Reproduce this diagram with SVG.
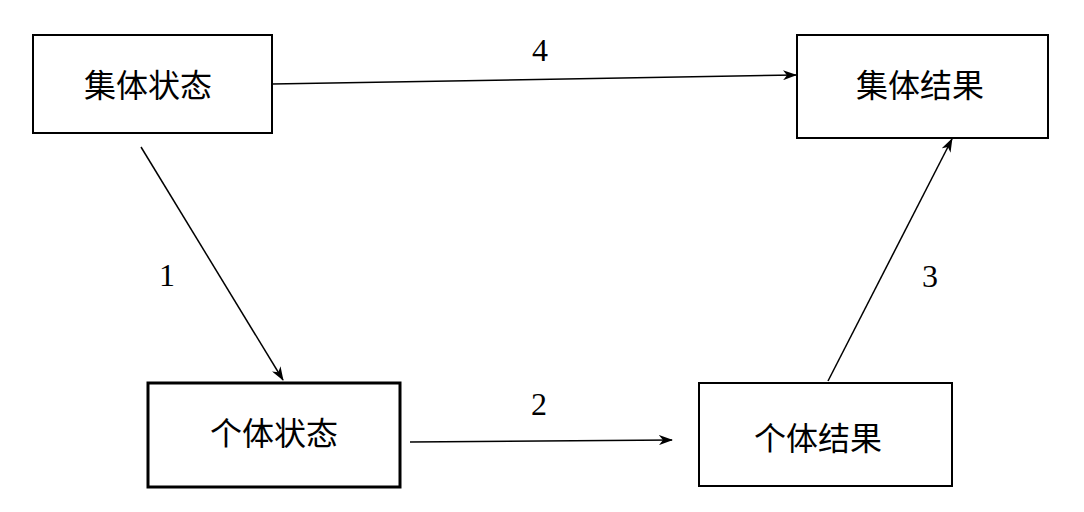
<svg xmlns="http://www.w3.org/2000/svg" width="1084" height="512" viewBox="0 0 1084 512">
<defs>
<marker id="ah" markerWidth="14" markerHeight="10" refX="13" refY="5" orient="auto" markerUnits="userSpaceOnUse">
<path d="M0,0 L14,5 L0,10 L4,5 Z" fill="#000"/>
</marker>
</defs>
<style>
.box{fill:#fff;stroke:#000;stroke-width:2}
.thick{stroke-width:3}
.lbl{font-family:"Noto Sans CJK SC","Noto Sans",sans-serif;font-size:32px;text-anchor:middle;fill:#000}
.num{font-family:"Liberation Serif",serif;font-size:32px;text-anchor:middle;fill:#000}
.conn{stroke:#000;stroke-width:1.5;fill:none;marker-end:url(#ah)}
</style>
<rect width="1084" height="512" fill="#fff"/>
<g id="n1"><rect class="box" x="33" y="35" width="239" height="98"/><text class="lbl" x="148" y="97">集体状态</text></g>
<g id="n2"><rect class="box" x="797" y="35" width="251" height="103"/><text class="lbl" x="920" y="97">集体结果</text></g>
<g id="n3"><rect class="box thick" x="148" y="383" width="252" height="104"/><text class="lbl" x="274" y="445">个体状态</text></g>
<g id="n4"><rect class="box" x="699" y="383" width="253" height="103"/><text class="lbl" x="818" y="450">个体结果</text></g>
<g id="connectors">
<line class="conn" x1="272" y1="84" x2="796" y2="75"/>
<line class="conn" x1="141" y1="147" x2="283" y2="380"/>
<line class="conn" x1="410" y1="442" x2="672" y2="440"/>
<line class="conn" x1="828" y1="381" x2="952" y2="139"/>
<text class="num" x="540" y="61">4</text>
<text class="num" x="167" y="286">1</text>
<text class="num" x="539" y="415">2</text>
<text class="num" x="930" y="287">3</text>
</g>
</svg>
